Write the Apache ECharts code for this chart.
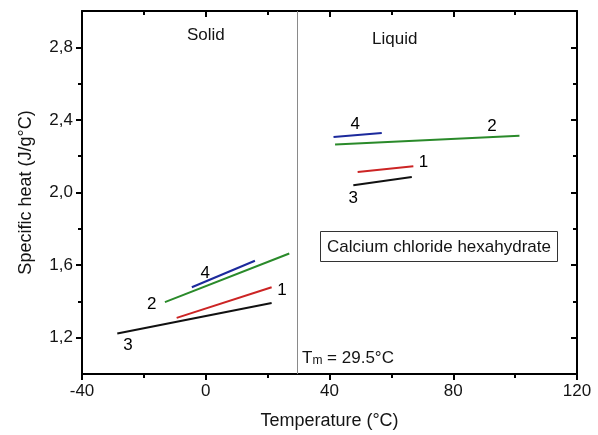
<!DOCTYPE html>
<html>
<head>
<meta charset="utf-8">
<script src="https://cdn.jsdelivr.net/npm/echarts@6/dist/echarts.min.js"></script>
<style>
  html, body { margin: 0; padding: 0; background: #fff; }
  #chart { width: 598px; height: 435px; }
</style>
</head>
<body>
<div id="chart"></div>
<script>
// Specific heat of calcium chloride hexahydrate, solid and liquid phases.
const curveIds = ['1', '2', '3', '4'];
const curveColors = ['#cc2424', '#2a8a2a', '#111111', '#1c2a9c'];

// Temperature (°C) at the start and end of each fitted segment.
const solidTemp = [[-9.4, 21.3], [-13.2, 27.0], [-28.6, 21.3], [-4.5, 15.9]];
const solidCp = [[1.309, 1.478], [1.396, 1.664], [1.223, 1.391], [1.478, 1.624]];
const liquidTemp = [[49.1, 67.1], [41.8, 101.4], [47.7, 66.6], [41.3, 56.9]];
const liquidCp = [[2.113, 2.145], [2.264, 2.313], [2.040, 2.085], [2.306, 2.328]];

// Where each curve number is written, in data coordinates [°C, J/g°C].
const solidTagAt = [[24.6, 1.463], [-17.5, 1.385], [-25.1, 1.156], [-0.2, 1.555]];
const liquidTagAt = [[70.4, 2.164], [92.5, 2.367], [47.7, 1.968], [48.3, 2.373]];

const meltingPoint = 29.5;
const xRange = [-40, 120];
const yRange = [1.0, 3.0];
const xMajorTicks = [-40, 0, 40, 80, 120];
const xMinorTicks = [-20, 20, 60, 100];
const yMajorTicks = [1.2, 1.6, 2.0, 2.4, 2.8];
const yMinorTicks = [1.4, 1.8, 2.2, 2.6];

const FONT = "'Liberation Sans', Arial, sans-serif";
const INK = '#141414';

function xAxisDef(position, ticks, len, inside, withLabels, withLine, title) {
  return {
    type: 'value', position, min: xRange[0], max: xRange[1],
    name: title || '', nameLocation: 'middle', nameGap: 38,
    nameTextStyle: { fontFamily: FONT, fontSize: 18, color: INK },
    axisLine: { show: withLine, onZero: false, lineStyle: { color: '#000', width: 2 } },
    axisTick: { show: true, inside, length: len, customValues: ticks,
      lineStyle: { color: '#000', width: 2 } },
    axisLabel: { show: withLabels, customValues: ticks, margin: 9,
      fontFamily: FONT, fontSize: 17, color: INK,
      formatter: v => String(v) },
    splitLine: { show: false }
  };
}

function yAxisDef(position, ticks, len, inside, withLabels, withLine, title) {
  return {
    type: 'value', position, min: yRange[0], max: yRange[1],
    name: title || '', nameLocation: 'middle', nameGap: 47,
    nameTextStyle: { fontFamily: FONT, fontSize: 18, color: INK },
    axisLine: { show: withLine, onZero: false, lineStyle: { color: '#000', width: 2 } },
    axisTick: { show: true, inside, length: len, customValues: ticks,
      lineStyle: { color: '#000', width: 2 } },
    axisLabel: { show: withLabels, customValues: ticks, margin: 9,
      fontFamily: FONT, fontSize: 17, color: INK,
      formatter: v => v.toFixed(1).replace('.', ',') },
    splitLine: { show: false }
  };
}

function segmentSeries(temps, cps, phase) {
  return temps.map((t, i) => ({
    name: phase + ' ' + curveIds[i],
    type: 'line',
    xAxisIndex: 0, yAxisIndex: 0,
    data: [[t[0], cps[i][0]], [t[1], cps[i][1]]],
    showSymbol: false, symbol: 'none',
    lineStyle: { color: curveColors[i], width: 2 },
    z: 3, silent: true
  }));
}

function tagSeries(points) {
  return {
    type: 'scatter', xAxisIndex: 0, yAxisIndex: 0,
    symbolSize: 0,
    itemStyle: { opacity: 1 },
    data: points.map((p, i) => [p[0], p[1], curveIds[i]]),
    label: {
      show: true, position: 'inside',
      formatter: p => p.value[2],
      fontFamily: FONT, fontSize: 17, color: '#000',
      textBorderWidth: 0
    },
    silent: true, z: 4
  };
}

const chart = echarts.init(document.getElementById('chart'), null, { renderer: 'canvas' });

chart.setOption({
  backgroundColor: '#fff',
  animation: false,
  grid: { left: 82, right: 21, top: 11, bottom: 58, containLabel: false },
  xAxis: [
    xAxisDef('bottom', xMajorTicks, 6, false, true, true, 'Temperature (°C)'),
    xAxisDef('bottom', xMinorTicks, 4, false, false, false),
    xAxisDef('top', xMajorTicks, 6, true, false, true),
    xAxisDef('top', xMinorTicks, 4, true, false, false)
  ],
  yAxis: [
    yAxisDef('left', yMajorTicks, 6, false, true, true, 'Specific heat (J/g°C)'),
    yAxisDef('left', yMinorTicks, 4, false, false, false),
    yAxisDef('right', yMajorTicks, 6, true, false, true),
    yAxisDef('right', yMinorTicks, 4, true, false, false)
  ],
  series: [
    ...segmentSeries(solidTemp, solidCp, 'Solid'),
    ...segmentSeries(liquidTemp, liquidCp, 'Liquid'),
    tagSeries(solidTagAt),
    tagSeries(liquidTagAt),
    {
      // melting point marker
      type: 'line', xAxisIndex: 0, yAxisIndex: 0, data: [],
      markLine: {
        silent: true, symbol: 'none', label: { show: false },
        lineStyle: { color: '#8a8a8a', width: 1, type: 'solid' },
        data: [{ xAxis: meltingPoint }]
      }
    }
  ],
  graphic: [
    { type: 'text', left: 187, top: 27,
      style: { text: 'Solid', font: '17px ' + FONT, fill: INK } },
    { type: 'text', left: 372, top: 31,
      style: { text: 'Liquid', font: '17px ' + FONT, fill: INK } },
    { type: 'rect', shape: { x: 320.5, y: 231.5, width: 237, height: 30 },
      style: { fill: '#fff', stroke: '#333', lineWidth: 1 } },
    { type: 'text', x: 439, y: 247,
      style: { text: 'Calcium chloride hexahydrate', font: '17px ' + FONT, fill: INK,
        align: 'center', verticalAlign: 'middle' } },
    { type: 'text', x: 302, y: 358,
      style: {
        text: '{t|T}{s|m}{t| = 29.5°C}',
        verticalAlign: 'middle',
        rich: {
          t: { fontFamily: FONT, fontSize: 17, fill: INK, color: INK, verticalAlign: 'bottom' },
          s: { fontFamily: FONT, fontSize: 12, fill: INK, color: INK, verticalAlign: 'bottom' }
        }
      } }
  ]
});
</script>
</body>
</html>
